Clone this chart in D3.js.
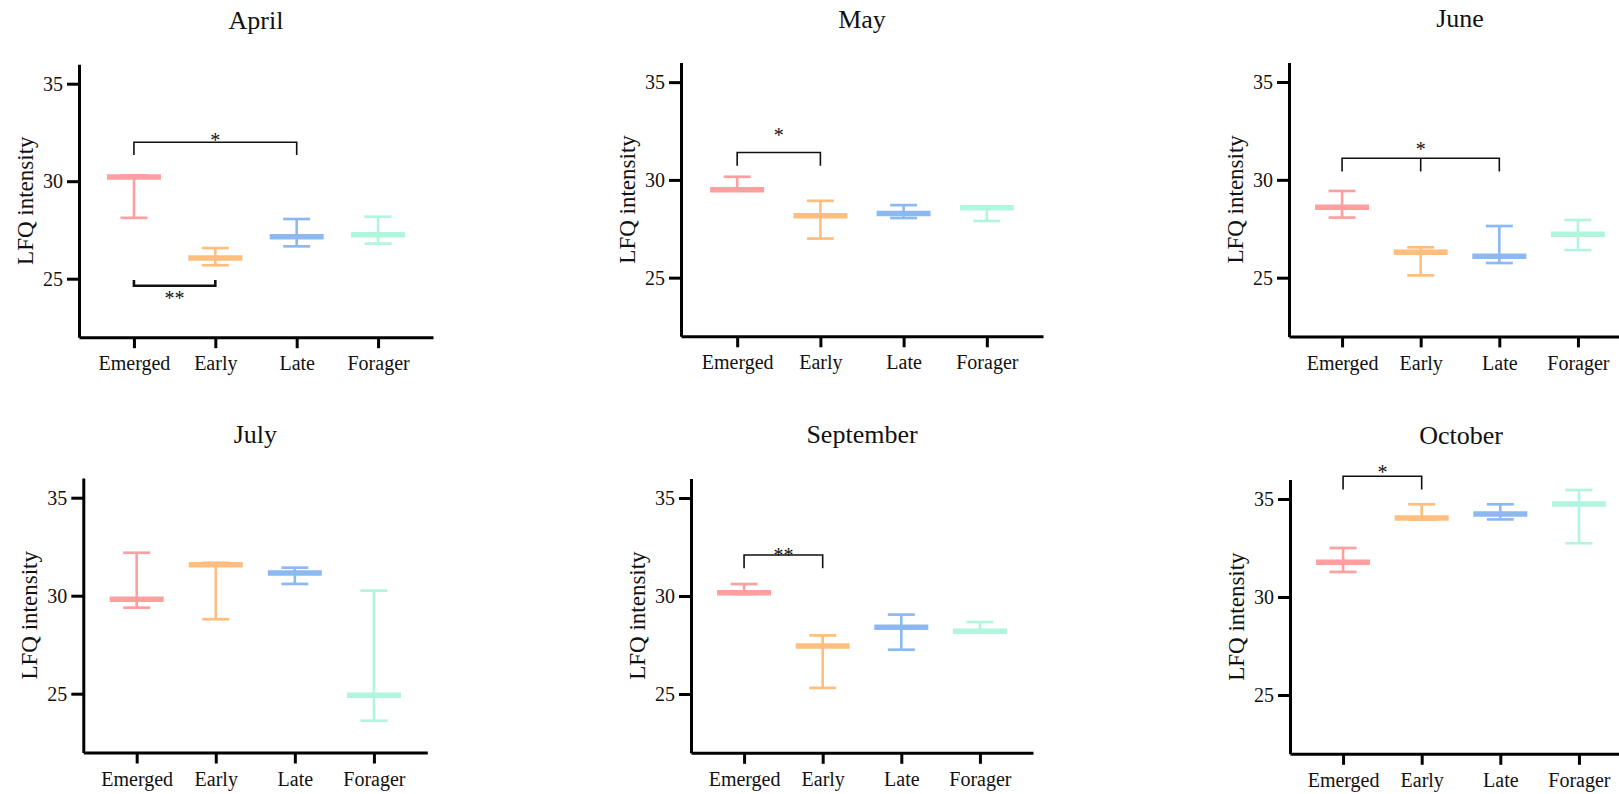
<!DOCTYPE html>
<html>
<head>
<meta charset="utf-8">
<script src="https://cdn.jsdelivr.net/npm/d3@7"></script>
<style>
  html, body { margin: 0; padding: 0; background: #fff; overflow: hidden; }
  svg text { font-family: "Liberation Serif", "Times New Roman", serif; fill: #111; }
</style>
</head>
<body>
<div id="chart"></div>
<script>
// Months (one panel each) and groups
const months = ["April", "May", "June", "July", "September", "October"];
const groups = ["Emerged", "Early", "Late", "Forager"];
const yTicks = [25, 30, 35];

// LFQ intensity, [month][group]
const means = [
    [30.22, 26.06, 27.15, 27.26],
    [29.50, 28.16, 28.28, 28.57],
    [28.60, 26.30, 26.09, 27.22],
    [29.82, 31.58, 31.16, 24.92],
    [30.17, 27.45, 28.40, 28.20],
    [31.77, 34.03, 34.23, 34.74]
];
const lows = [
    [28.12, 25.69, 26.66, 26.80],
    [29.45, 27.00, 28.05, 27.90],
    [28.07, 25.12, 25.75, 26.41],
    [29.39, 28.80, 30.60, 23.62],
    [30.10, 25.31, 27.26, 28.15],
    [31.28, 33.95, 33.96, 32.74]
];
const highs = [
    [30.30, 26.57, 28.06, 28.18],
    [30.16, 28.93, 28.71, 28.62],
    [29.43, 26.55, 27.64, 27.95],
    [32.19, 31.68, 31.43, 30.26],
    [30.61, 27.99, 29.05, 28.67],
    [32.50, 34.73, 34.73, 35.46]
];

// significance brackets (value units)
const brackets = [
    { month: 0, from: 0, to: 2, line: 32.00, leg: 31.34, label: "*",  labelAt: 32.26 },
    { month: 0, from: 0, to: 1, line: 24.64, leg: 24.93, label: "**", labelAt: 24.16 },
    { month: 1, from: 0, to: 1, line: 31.40, leg: 30.73, label: "*",  labelAt: 32.47 },
    { month: 2, from: 0, to: 2, mid: 1, line: 31.10, leg: 30.42, label: "*", labelAt: 31.74 },
    { month: 4, from: 0, to: 1, line: 32.09, leg: 31.41, label: "**", labelAt: 32.23 },
    { month: 5, from: 0, to: 1, line: 36.16, leg: 35.49, label: "*",  labelAt: 36.53 }
];
const bracketWidth = [1.6, 2.6, 1.6, 1.6, 1.6, 1.6];

const colors = ["#ff9f9f", "#ffbe7d", "#8db9f3", "#b1f6dc"];
const serif = '"Liberation Serif", "Times New Roman", serif';

// panel frames in page pixels
const frames = [
    { x0: 79,   w: 354, top: 64.2,  bot: 337.2 },
    { x0: 681,  w: 362, top: 62.6,  bot: 336.3 },
    { x0: 1289, w: 342, top: 62.4,  bot: 336.4 },
    { x0: 83.3, w: 344, top: 478.1, bot: 752.5 },
    { x0: 691,  w: 342, top: 478.4, bot: 752.8 },
    { x0: 1290, w: 342, top: 479.4, bot: 753.8 }
];

const svg = d3.select("#chart")
    .append("svg")
    .attr("width", 1619)
    .attr("height", 794)
    .attr("font-family", serif);

months.forEach((month, m) => {
    const f = frames[m];
    const g = svg.append("g");

    const x = d3.scalePoint()
        .domain(groups)
        .range([f.x0, f.x0 + f.w])
        .padding(0.675);

    const y = d3.scaleLinear()
        .domain([22, 36])
        .range([f.bot, f.top]);

    // axes
    const yAxis = g.append("g")
        .attr("transform", `translate(${f.x0},0)`)
        .call(d3.axisLeft(y).tickValues(yTicks).tickSize(12).tickSizeOuter(0).tickPadding(4));

    const xAxis = g.append("g")
        .attr("transform", `translate(0,${f.bot})`)
        .call(d3.axisBottom(x).tickSize(11).tickSizeOuter(0).tickPadding(8));

    [yAxis, xAxis].forEach(a => {
        a.attr("font-family", serif).attr("font-size", 20);
        a.selectAll("text")
            .style("font-family", serif)
            .attr("font-size", "20px")
            .attr("fill", "#111");
        a.select(".domain").attr("stroke", "#000").attr("stroke-width", 3);
        a.selectAll(".tick line").attr("stroke", "#000").attr("stroke-width", 3);
    });

    // title
    g.append("text")
        .attr("x", f.x0 + f.w / 2)
        .attr("y", f.top - 35)
        .attr("text-anchor", "middle")
        .attr("font-size", "26px")
        .text(month);

    // y label
    g.append("text")
        .attr("transform", `translate(${f.x0 - 46},${(f.top + f.bot) / 2}) rotate(-90)`)
        .attr("text-anchor", "middle")
        .attr("font-size", "23px")
        .text("LFQ intensity");

    // error bars
    const rows = groups.map((grp, i) => ({
        grp: grp, mean: means[m][i], lo: lows[m][i], hi: highs[m][i], color: colors[i]
    }));

    const bars = g.selectAll(".bar")
        .data(rows)
        .enter()
        .append("g")
        .attr("class", "bar");

    bars.append("line")
        .attr("x1", d => x(d.grp))
        .attr("x2", d => x(d.grp))
        .attr("y1", d => y(d.lo))
        .attr("y2", d => y(d.hi))
        .attr("stroke", d => d.color)
        .attr("stroke-width", 2.6);

    ["lo", "hi"].forEach(k => {
        bars.append("line")
            .attr("x1", d => x(d.grp) - 13.5)
            .attr("x2", d => x(d.grp) + 13.5)
            .attr("y1", d => y(d[k]))
            .attr("y2", d => y(d[k]))
            .attr("stroke", d => d.color)
            .attr("stroke-width", 2.7);
    });

    bars.append("line")
        .attr("x1", d => x(d.grp) - 27)
        .attr("x2", d => x(d.grp) + 27)
        .attr("y1", d => y(d.mean))
        .attr("y2", d => y(d.mean))
        .attr("stroke", d => d.color)
        .attr("stroke-width", 5.5);

    // significance brackets
    brackets.forEach((b, bi) => {
        if (b.month !== m) return;
        const xa = x(groups[b.from]), xb = x(groups[b.to]);
        let p = `M${xa},${y(b.leg)}V${y(b.line)}H${xb}V${y(b.leg)}`;
        if (b.mid !== undefined) {
            const xm = x(groups[b.mid]);
            p += `M${xm},${y(b.line)}V${y(b.leg)}`;
        }
        g.append("path")
            .attr("d", p)
            .attr("fill", "none")
            .attr("stroke", "#111")
            .attr("stroke-width", bracketWidth[bi]);
        const lx = b.mid !== undefined ? x(groups[b.mid]) : (xa + xb) / 2;
        g.append("text")
            .attr("x", lx)
            .attr("y", y(b.labelAt) + 10)
            .attr("text-anchor", "middle")
            .attr("font-size", "20px")
            .text(b.label);
    });
});
</script>
</body>
</html>
